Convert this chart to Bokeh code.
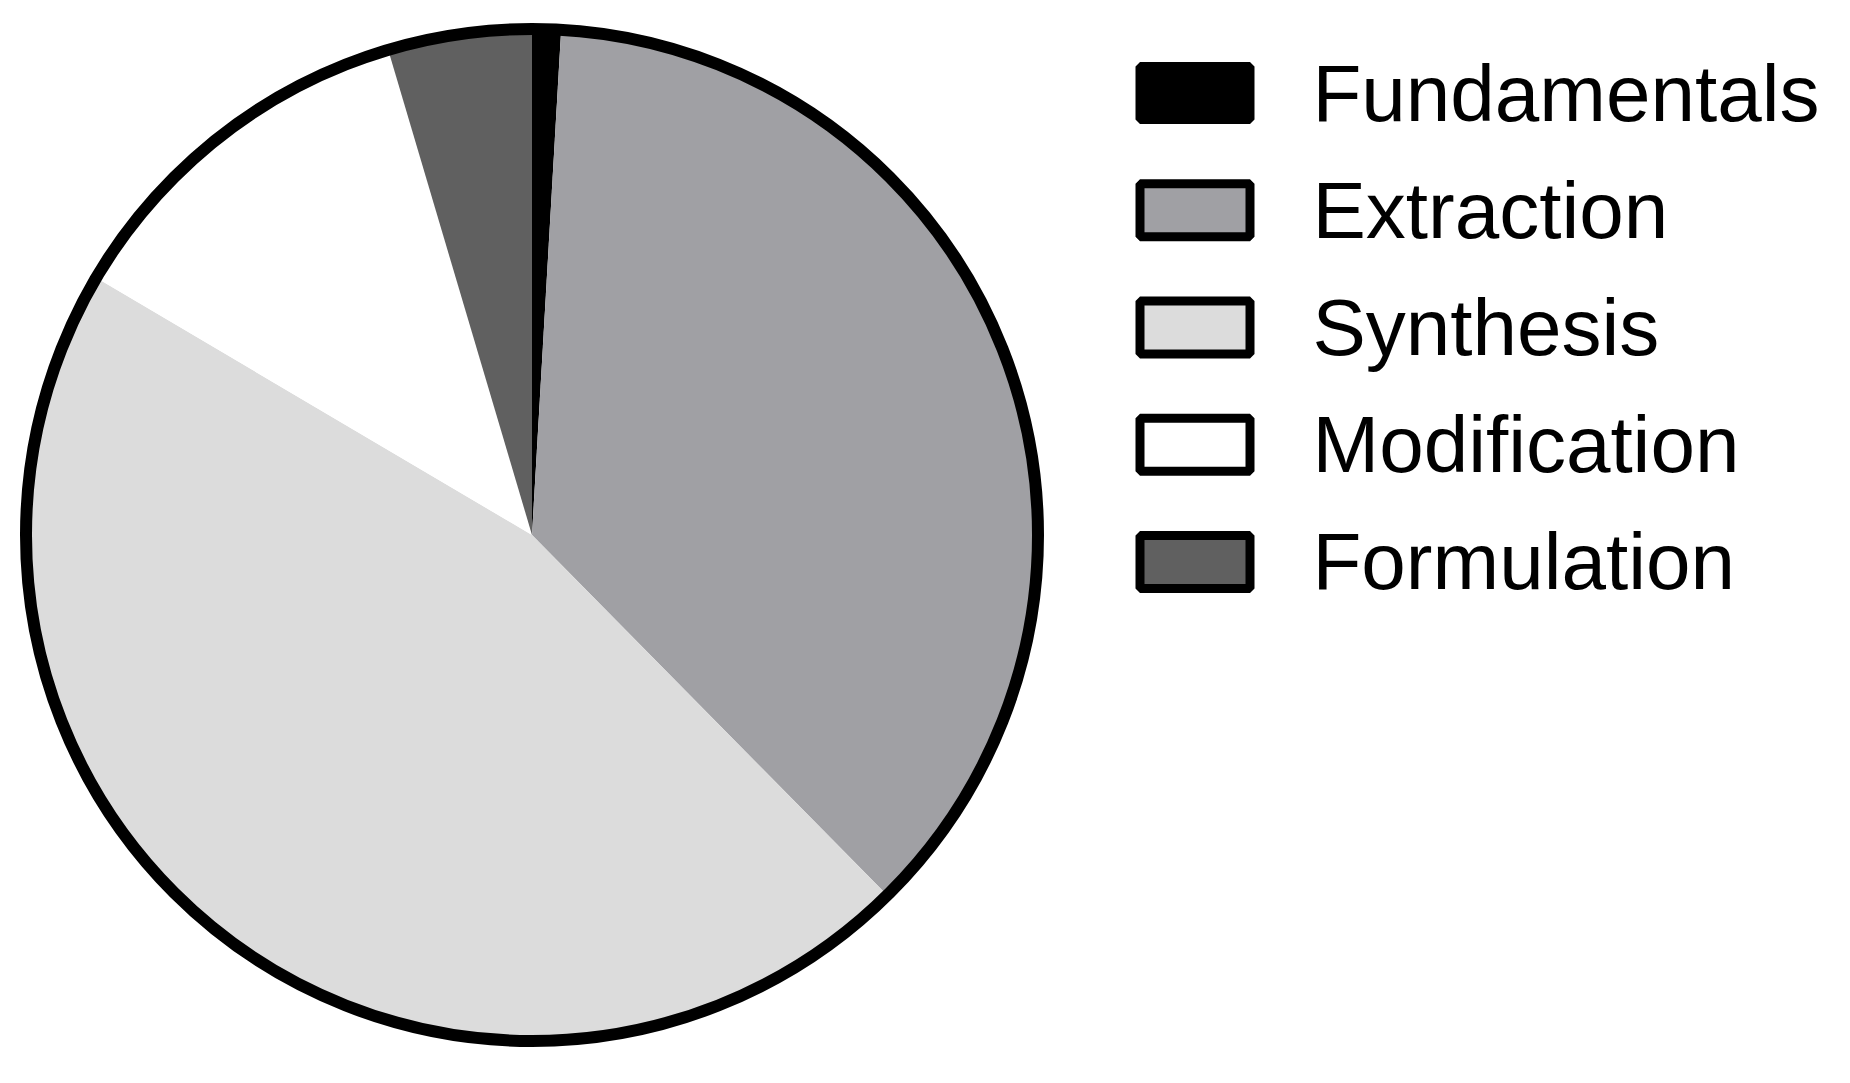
import numpy as np
from bokeh.plotting import figure
from bokeh.models import Range1d, ColumnDataSource
from bokeh.core.properties import value
from bokeh.embed import file_html
from bokeh.resources import INLINE

# ---- data ----
categories = ["Fundamentals", "Extraction", "Synthesis", "Modification", "Formulation"]
counts = [1, 40, 50, 13, 5]
colors = ["#000000", "#A0A0A4", "#DCDCDC", "#FFFFFF", "#606060"]

W, H = 1834, 1067
p = figure(width=W, height=H, output_backend="svg", toolbar_location=None,
           x_range=Range1d(0, W), y_range=Range1d(0, H), min_border=0)
p.axis.visible = False
p.grid.visible = False
p.outline_line_color = None
p.background_fill_color = "white"
p.border_fill_color = "white"

def sy(y):  # screen y -> data y
    return H - y

def sx(x):
    return x

cx, cy, R = sx(531.5), sy(534.5), 506

vals = np.array(counts, dtype=float)
frac = vals / vals.sum()
cum = np.concatenate([[0], np.cumsum(frac)])
start = np.pi / 2 - cum[:-1] * 2 * np.pi
end = np.pi / 2 - cum[1:] * 2 * np.pi

src = ColumnDataSource(dict(start=start, end=end, color=colors, cat=categories))
p.wedge(x=cx, y=cy, radius=R, start_angle="start", end_angle="end",
        direction="clock", fill_color="color", line_color=None, source=src)
p.scatter(x=[cx], y=[cy], size=2 * R, marker="circle", fill_color=None,
          line_color="black", line_width=12)

# ---- legend ----
n = len(categories)
row0, step = 92.6, 117.2
ys = [row0 + i * step for i in range(n)]
lsrc = ColumnDataSource(dict(
    x=[sx(1194.5)] * n,
    y=[sy(v) for v in ys],
    ty=[sy(v) for v in ys],
    tx=[sx(1312)] * n,
    color=colors, cat=categories))
p.rect(x="x", y="y", width=110, height=53, fill_color="color",
       line_color="black", line_width=9, source=lsrc)
p.text(x="tx", y="ty", text="cat", text_font=value("Liberation Sans"),
       text_font_size="80px", text_baseline="alphabetic", text_align="left",
       text_color="black", source=lsrc)

open("out.html", "w").write(file_html(p, INLINE))
